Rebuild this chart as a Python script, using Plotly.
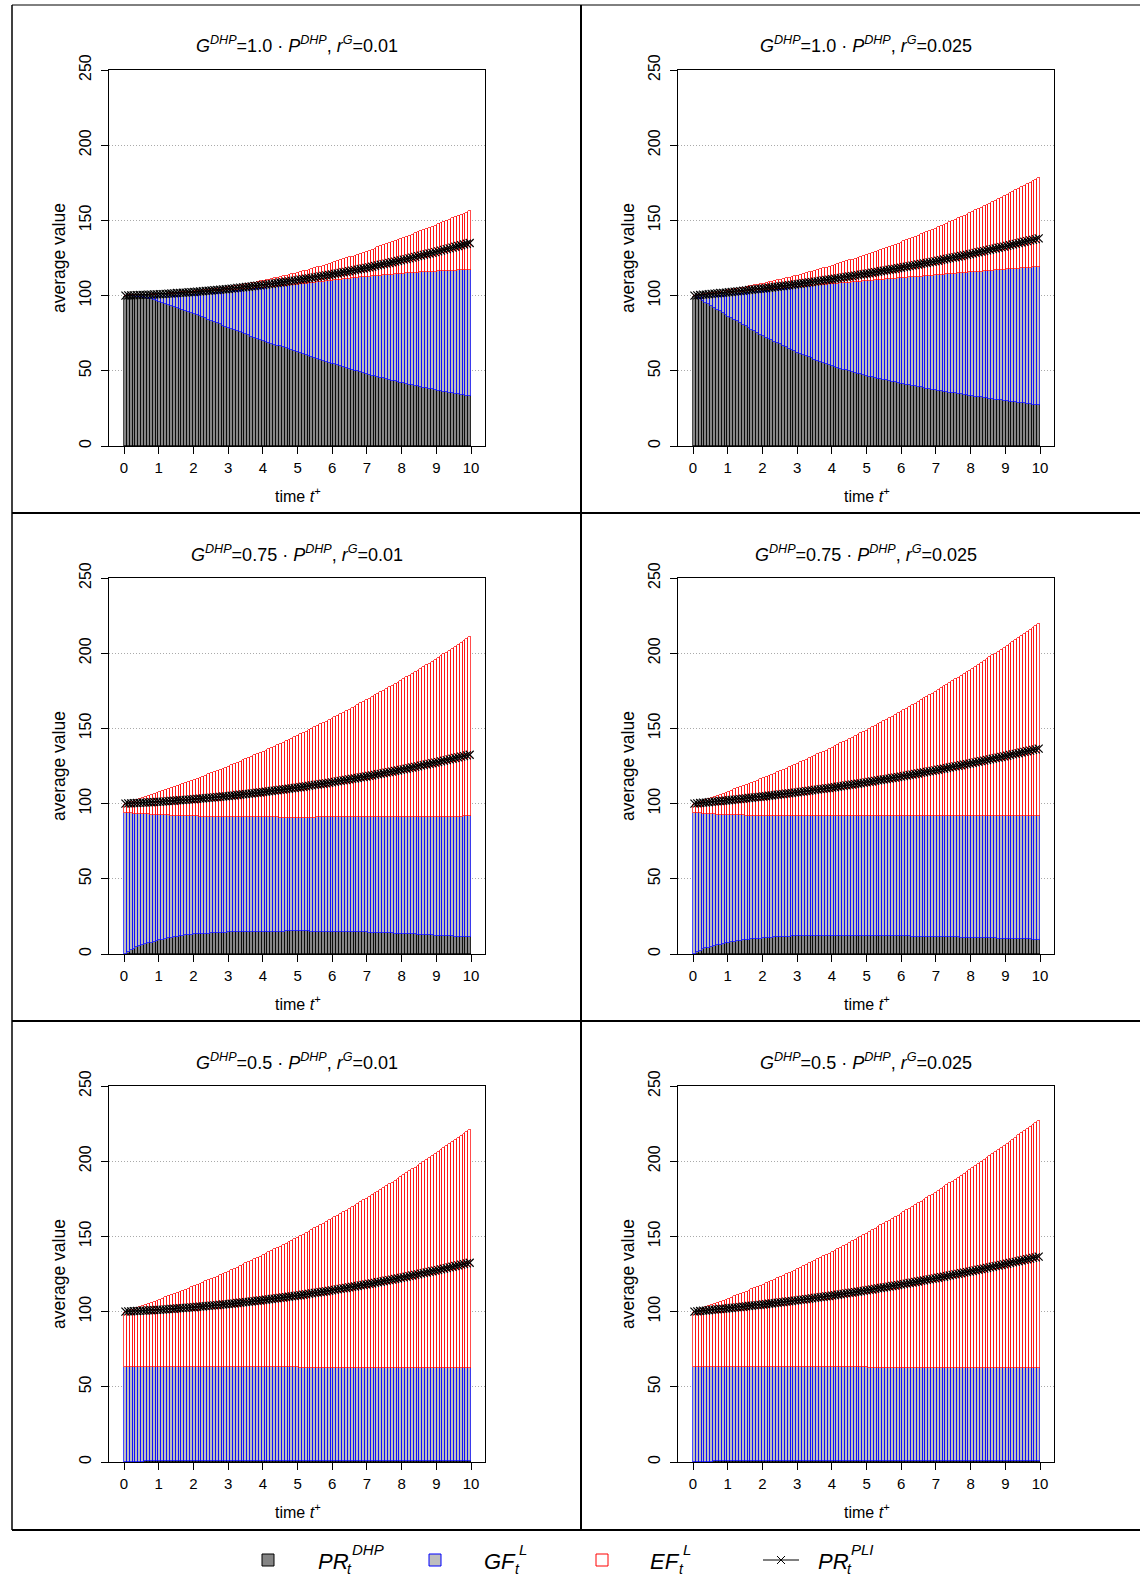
import plotly.graph_objects as go
from plotly.subplots import make_subplots

# ---------------- data (monthly values, t = 0, 1/12, ..., 10) ----------------
tick_years = [0, 1, 2, 3, 4, 5, 6, 7, 8, 9, 10]
y_ticks = [0, 50, 100, 150, 200, 250]

panel_titles = [
    "<i>G</i><sup><i>DHP</i></sup>=1.0 · <i>P</i><sup><i>DHP</i></sup>, <i>r</i><sup><i>G</i></sup>=0.01",
    "<i>G</i><sup><i>DHP</i></sup>=1.0 · <i>P</i><sup><i>DHP</i></sup>, <i>r</i><sup><i>G</i></sup>=0.025",
    "<i>G</i><sup><i>DHP</i></sup>=0.75 · <i>P</i><sup><i>DHP</i></sup>, <i>r</i><sup><i>G</i></sup>=0.01",
    "<i>G</i><sup><i>DHP</i></sup>=0.75 · <i>P</i><sup><i>DHP</i></sup>, <i>r</i><sup><i>G</i></sup>=0.025",
    "<i>G</i><sup><i>DHP</i></sup>=0.5 · <i>P</i><sup><i>DHP</i></sup>, <i>r</i><sup><i>G</i></sup>=0.01",
    "<i>G</i><sup><i>DHP</i></sup>=0.5 · <i>P</i><sup><i>DHP</i></sup>, <i>r</i><sup><i>G</i></sup>=0.025",
]

# Panel 1: G=1.0, r=0.01
p1_dhp = [100, 99.9, 99.8, 99.6, 99.4, 99.1, 98.8, 98.4, 98.0, 97.6, 97.1, 96.6, 96.0,
          95.3, 94.7, 94.0, 93.3, 92.7, 92.0, 91.3, 90.7, 90.0, 89.3, 88.7, 88.0,
          87.2, 86.4, 85.6, 84.8, 84.0, 83.3, 82.5, 81.7, 80.9, 80.1, 79.3, 78.5,
          77.8, 77.1, 76.4, 75.7, 75.0, 74.3, 73.5, 72.8, 72.1, 71.4, 70.7, 70.0,
          69.4, 68.7, 68.1, 67.4, 66.8, 66.2, 65.5, 64.9, 64.2, 63.6, 62.9, 62.3,
          61.7, 61.1, 60.4, 59.8, 59.2, 58.6, 57.9, 57.3, 56.7, 56.1, 55.4, 54.8,
          54.2, 53.6, 53.1, 52.5, 51.9, 51.3, 50.7, 50.1, 49.6, 49.0, 48.4, 47.8,
          47.3, 46.8, 46.4, 45.9, 45.4, 44.9, 44.4, 43.9, 43.5, 43.0, 42.5, 42.0,
          41.6, 41.2, 40.8, 40.4, 40.0, 39.6, 39.2, 38.8, 38.4, 38.0, 37.6, 37.2,
          36.9, 36.5, 36.2, 35.8, 35.5, 35.1, 34.8, 34.4, 34.1, 33.7, 33.4, 33.0]
p1_dhp_gf = [100, 100.1, 100.1, 100.2, 100.3, 100.3, 100.4, 100.5, 100.5, 100.6, 100.7, 100.7, 100.8,
             100.9, 101.0, 101.1, 101.2, 101.3, 101.4, 101.5, 101.6, 101.7, 101.8, 101.9, 102.0,
             102.1, 102.3, 102.4, 102.5, 102.6, 102.8, 102.9, 103.0, 103.1, 103.3, 103.4, 103.5,
             103.6, 103.8, 103.9, 104.1, 104.2, 104.4, 104.5, 104.6, 104.8, 104.9, 105.1, 105.2,
             105.4, 105.6, 105.7, 105.9, 106.1, 106.3, 106.4, 106.6, 106.8, 107.0, 107.1, 107.3,
             107.5, 107.8, 108.0, 108.2, 108.4, 108.7, 108.9, 109.1, 109.3, 109.6, 109.8, 110.0,
             110.2, 110.4, 110.6, 110.8, 111.0, 111.3, 111.5, 111.7, 111.9, 112.1, 112.3, 112.5,
             112.7, 112.8, 113.0, 113.2, 113.3, 113.5, 113.7, 113.8, 114.0, 114.2, 114.3, 114.5,
             114.6, 114.8, 114.9, 115.0, 115.1, 115.3, 115.4, 115.5, 115.6, 115.8, 115.9, 116.0,
             116.1, 116.2, 116.3, 116.3, 116.4, 116.5, 116.6, 116.7, 116.8, 116.8, 116.9, 117.0]
p1_total = [100, 100.1, 100.2, 100.3, 100.3, 100.4, 100.5, 100.6, 100.7, 100.8, 100.8, 100.9, 101.0,
            101.2, 101.3, 101.5, 101.6, 101.8, 101.9, 102.1, 102.2, 102.4, 102.5, 102.7, 102.8,
            103.0, 103.3, 103.5, 103.7, 103.9, 104.2, 104.4, 104.6, 104.8, 105.1, 105.3, 105.5,
            105.9, 106.2, 106.6, 106.9, 107.3, 107.7, 108.0, 108.4, 108.7, 109.1, 109.4, 109.8,
            110.2, 110.7, 111.1, 111.5, 112.0, 112.4, 112.8, 113.3, 113.7, 114.1, 114.6, 115.0,
            115.5, 116.1, 116.6, 117.2, 117.7, 118.3, 118.8, 119.3, 119.9, 120.4, 121.0, 121.5,
            122.1, 122.8, 123.4, 124.1, 124.7, 125.4, 126.0, 126.6, 127.3, 127.9, 128.6, 129.2,
            129.9, 130.6, 131.3, 132.0, 132.7, 133.4, 134.0, 134.7, 135.4, 136.1, 136.8, 137.5,
            138.3, 139.0, 139.8, 140.5, 141.3, 142.0, 142.8, 143.5, 144.3, 145.0, 145.8, 146.5,
            147.3, 148.1, 148.9, 149.7, 150.5, 151.3, 152.0, 152.8, 153.6, 154.4, 155.2, 156.0]
p1_pli = [100, 100.1, 100.2, 100.2, 100.3, 100.4, 100.5, 100.5, 100.6, 100.7, 100.8, 100.8, 100.9,
          101.0, 101.2, 101.3, 101.4, 101.5, 101.7, 101.8, 101.9, 102.0, 102.2, 102.3, 102.4,
          102.6, 102.7, 102.9, 103.1, 103.2, 103.4, 103.6, 103.7, 103.9, 104.1, 104.2, 104.4,
          104.6, 104.8, 105.1, 105.3, 105.5, 105.7, 105.9, 106.1, 106.4, 106.6, 106.8, 107.0,
          107.3, 107.6, 107.8, 108.1, 108.4, 108.7, 108.9, 109.2, 109.5, 109.8, 110.0, 110.3,
          110.6, 110.9, 111.2, 111.5, 111.8, 112.1, 112.5, 112.8, 113.1, 113.4, 113.7, 114.0,
          114.4, 114.7, 115.1, 115.5, 115.8, 116.2, 116.6, 116.9, 117.3, 117.7, 118.0, 118.4,
          118.8, 119.2, 119.7, 120.1, 120.5, 120.9, 121.3, 121.7, 122.2, 122.6, 123.0, 123.4,
          123.9, 124.3, 124.8, 125.2, 125.7, 126.2, 126.6, 127.1, 127.5, 128.0, 128.4, 128.9,
          129.4, 129.9, 130.4, 130.9, 131.4, 131.9, 132.5, 133.0, 133.5, 134.0, 134.5, 135.0]

# Panel 2: G=1.0, r=0.025
p2_dhp = [100, 98.8, 97.7, 96.5, 95.3, 94.2, 93.0, 91.8, 90.7, 89.5, 88.3, 87.2, 86.0,
          84.9, 83.8, 82.8, 81.7, 80.6, 79.5, 78.4, 77.3, 76.3, 75.2, 74.1, 73.0,
          72.1, 71.2, 70.3, 69.3, 68.4, 67.5, 66.6, 65.7, 64.8, 63.8, 62.9, 62.0,
          61.3, 60.5, 59.8, 59.0, 58.3, 57.5, 56.8, 56.0, 55.3, 54.5, 53.8, 53.0,
          52.5, 51.9, 51.4, 50.8, 50.3, 49.8, 49.2, 48.7, 48.1, 47.6, 47.0, 46.5,
          46.1, 45.7, 45.3, 44.8, 44.4, 44.0, 43.6, 43.2, 42.8, 42.3, 41.9, 41.5,
          41.1, 40.8, 40.4, 40.0, 39.6, 39.3, 38.9, 38.5, 38.1, 37.8, 37.4, 37.0,
          36.7, 36.4, 36.1, 35.8, 35.5, 35.3, 35.0, 34.7, 34.4, 34.1, 33.8, 33.5,
          33.2, 32.9, 32.6, 32.3, 32.0, 31.8, 31.5, 31.2, 30.9, 30.6, 30.3, 30.0,
          29.8, 29.5, 29.3, 29.0, 28.8, 28.5, 28.3, 28.0, 27.8, 27.5, 27.3, 27.0]
p2_dhp_gf = [100, 100.2, 100.3, 100.5, 100.6, 100.8, 100.9, 101.1, 101.2, 101.4, 101.5, 101.7, 101.8,
             102.0, 102.1, 102.3, 102.4, 102.6, 102.8, 102.9, 103.1, 103.2, 103.4, 103.5, 103.7,
             103.9, 104.0, 104.2, 104.3, 104.5, 104.7, 104.8, 105.0, 105.1, 105.3, 105.4, 105.6,
             105.8, 105.9, 106.1, 106.3, 106.4, 106.6, 106.8, 106.9, 107.1, 107.3, 107.4, 107.6,
             107.8, 107.9, 108.1, 108.3, 108.4, 108.6, 108.8, 108.9, 109.1, 109.3, 109.4, 109.6,
             109.8, 109.9, 110.1, 110.3, 110.4, 110.6, 110.8, 110.9, 111.1, 111.3, 111.4, 111.6,
             111.8, 111.9, 112.1, 112.2, 112.4, 112.6, 112.7, 112.9, 113.0, 113.2, 113.3, 113.5,
             113.7, 113.8, 114.0, 114.1, 114.3, 114.5, 114.6, 114.8, 114.9, 115.1, 115.2, 115.4,
             115.6, 115.7, 115.9, 116.0, 116.2, 116.3, 116.5, 116.6, 116.8, 116.9, 117.1, 117.2,
             117.4, 117.5, 117.7, 117.8, 118.0, 118.1, 118.3, 118.4, 118.6, 118.7, 118.9, 119.0]
p2_total = [100, 100.3, 100.6, 100.9, 101.2, 101.5, 101.8, 102.0, 102.3, 102.6, 102.9, 103.2, 103.5,
            103.9, 104.2, 104.6, 105.0, 105.3, 105.7, 106.1, 106.4, 106.8, 107.2, 107.5, 107.9,
            108.4, 108.8, 109.3, 109.7, 110.2, 110.6, 111.1, 111.5, 112.0, 112.4, 112.9, 113.3,
            113.8, 114.4, 114.9, 115.4, 116.0, 116.5, 117.0, 117.6, 118.1, 118.6, 119.2, 119.7,
            120.3, 120.9, 121.5, 122.1, 122.7, 123.4, 124.0, 124.6, 125.2, 125.8, 126.4, 127.0,
            127.7, 128.4, 129.1, 129.8, 130.5, 131.2, 131.8, 132.5, 133.2, 133.9, 134.6, 135.3,
            136.1, 136.8, 137.6, 138.4, 139.1, 139.9, 140.7, 141.4, 142.2, 143.0, 143.7, 144.5,
            145.4, 146.2, 147.1, 147.9, 148.8, 149.6, 150.5, 151.3, 152.2, 153.0, 153.9, 154.7,
            155.6, 156.6, 157.5, 158.4, 159.4, 160.3, 161.2, 162.2, 163.1, 164.0, 165.0, 165.9,
            166.9, 167.9, 168.9, 169.9, 170.9, 171.9, 173.0, 174.0, 175.0, 176.0, 177.0, 178.0]
p2_pli = [100, 100.2, 100.4, 100.6, 100.7, 100.9, 101.1, 101.3, 101.5, 101.7, 101.8, 102.0, 102.2,
          102.4, 102.6, 102.8, 103.0, 103.2, 103.5, 103.7, 103.9, 104.1, 104.3, 104.5, 104.7,
          104.9, 105.2, 105.4, 105.7, 105.9, 106.2, 106.4, 106.6, 106.9, 107.1, 107.4, 107.6,
          107.9, 108.2, 108.4, 108.7, 109.0, 109.3, 109.5, 109.8, 110.1, 110.4, 110.6, 110.9,
          111.2, 111.5, 111.8, 112.1, 112.4, 112.7, 113.0, 113.3, 113.6, 113.9, 114.2, 114.5,
          114.8, 115.2, 115.5, 115.8, 116.2, 116.5, 116.8, 117.2, 117.5, 117.8, 118.2, 118.5,
          118.9, 119.2, 119.6, 119.9, 120.3, 120.7, 121.0, 121.4, 121.7, 122.1, 122.4, 122.8,
          123.2, 123.6, 124.0, 124.4, 124.8, 125.2, 125.5, 125.9, 126.3, 126.7, 127.1, 127.5,
          127.9, 128.4, 128.8, 129.2, 129.6, 130.1, 130.5, 130.9, 131.3, 131.8, 132.2, 132.6,
          133.1, 133.5, 134.0, 134.4, 134.9, 135.3, 135.8, 136.2, 136.7, 137.1, 137.6, 138.0]

# Panel 3: G=0.75, r=0.01
p3_dhp = [0, 1.5, 2.7, 3.6, 4.4, 5.1, 5.8, 6.4, 7.0, 7.6, 8.2, 8.7, 9.2,
          9.6, 10.0, 10.4, 10.8, 11.1, 11.5, 11.8, 12.1, 12.4, 12.6, 12.9, 13.1,
          13.2, 13.3, 13.4, 13.5, 13.6, 13.7, 13.8, 13.9, 14.0, 14.1, 14.2, 14.3,
          14.3, 14.4, 14.4, 14.5, 14.5, 14.6, 14.6, 14.7, 14.7, 14.7, 14.8, 14.8,
          14.8, 14.8, 14.9, 14.9, 14.9, 14.9, 14.9, 15.0, 15.0, 15.0, 15.0, 15.0,
          15.0, 15.0, 15.0, 15.0, 14.9, 14.9, 14.9, 14.9, 14.9, 14.8, 14.8, 14.8,
          14.8, 14.7, 14.7, 14.6, 14.6, 14.6, 14.5, 14.5, 14.4, 14.4, 14.3, 14.3,
          14.2, 14.2, 14.1, 14.0, 14.0, 13.9, 13.8, 13.8, 13.7, 13.6, 13.6, 13.5,
          13.4, 13.3, 13.2, 13.1, 13.0, 12.9, 12.8, 12.7, 12.6, 12.5, 12.4, 12.3,
          12.2, 12.1, 12.0, 11.9, 11.8, 11.7, 11.5, 11.4, 11.3, 11.2, 11.1, 11.0]
p3_dhp_gf = [94.0, 93.8, 93.6, 93.4, 93.3, 93.1, 93.0, 92.9, 92.8, 92.6, 92.5, 92.4, 92.3,
             92.2, 92.2, 92.1, 92.0, 92.0, 91.9, 91.8, 91.8, 91.7, 91.6, 91.6, 91.5,
             91.5, 91.4, 91.4, 91.3, 91.3, 91.3, 91.2, 91.2, 91.1, 91.1, 91.0, 91.0,
             91.0, 91.0, 90.9, 90.9, 90.9, 90.9, 90.9, 90.9, 90.8, 90.8, 90.8, 90.8,
             90.8, 90.8, 90.8, 90.8, 90.8, 90.7, 90.7, 90.7, 90.7, 90.7, 90.7, 90.7,
             90.7, 90.7, 90.7, 90.7, 90.7, 90.7, 90.8, 90.8, 90.8, 90.8, 90.8, 90.8,
             90.8, 90.8, 90.8, 90.8, 90.8, 90.8, 90.9, 90.9, 90.9, 90.9, 90.9, 90.9,
             90.9, 90.9, 90.9, 90.9, 90.9, 90.9, 91.0, 91.0, 91.0, 91.0, 91.0, 91.0,
             91.0, 91.0, 91.0, 91.1, 91.1, 91.1, 91.1, 91.1, 91.1, 91.2, 91.2, 91.2,
             91.2, 91.3, 91.3, 91.3, 91.3, 91.4, 91.4, 91.4, 91.4, 91.5, 91.5, 91.5]
p3_total = [100, 100.6, 101.2, 101.9, 102.5, 103.1, 103.7, 104.3, 104.9, 105.6, 106.2, 106.8, 107.4,
            108.1, 108.8, 109.5, 110.1, 110.8, 111.5, 112.2, 112.9, 113.5, 114.2, 114.9, 115.6,
            116.4, 117.1, 117.9, 118.6, 119.4, 120.1, 120.9, 121.6, 122.4, 123.1, 123.9, 124.6,
            125.4, 126.2, 127.1, 127.9, 128.7, 129.5, 130.3, 131.1, 132.0, 132.8, 133.6, 134.4,
            135.3, 136.2, 137.1, 137.9, 138.8, 139.7, 140.6, 141.5, 142.4, 143.2, 144.1, 145.0,
            146.0, 146.9, 147.9, 148.8, 149.8, 150.7, 151.7, 152.6, 153.6, 154.5, 155.5, 156.4,
            157.4, 158.4, 159.5, 160.5, 161.5, 162.5, 163.5, 164.5, 165.6, 166.6, 167.6, 168.6,
            169.7, 170.8, 171.9, 172.9, 174.0, 175.1, 176.2, 177.3, 178.4, 179.4, 180.5, 181.6,
            182.8, 183.9, 185.1, 186.2, 187.4, 188.5, 189.7, 190.8, 192.0, 193.1, 194.3, 195.4,
            196.7, 197.9, 199.2, 200.4, 201.7, 202.9, 204.2, 205.5, 206.7, 208.0, 209.2, 210.5]
p3_pli = [100, 100.1, 100.2, 100.3, 100.4, 100.5, 100.6, 100.7, 100.8, 100.9, 101.0, 101.1, 101.2,
          101.3, 101.5, 101.6, 101.8, 101.9, 102.1, 102.2, 102.3, 102.5, 102.6, 102.8, 102.9,
          103.1, 103.3, 103.4, 103.6, 103.8, 104.0, 104.1, 104.3, 104.5, 104.7, 104.8, 105.0,
          105.2, 105.4, 105.7, 105.9, 106.1, 106.3, 106.5, 106.7, 107.0, 107.2, 107.4, 107.6,
          107.9, 108.1, 108.4, 108.6, 108.9, 109.1, 109.4, 109.6, 109.9, 110.1, 110.4, 110.6,
          110.9, 111.2, 111.5, 111.8, 112.1, 112.4, 112.6, 112.9, 113.2, 113.5, 113.8, 114.1,
          114.4, 114.8, 115.1, 115.4, 115.7, 116.1, 116.4, 116.7, 117.0, 117.4, 117.7, 118.0,
          118.4, 118.7, 119.1, 119.5, 119.8, 120.2, 120.6, 120.9, 121.3, 121.7, 122.0, 122.4,
          122.8, 123.2, 123.6, 124.0, 124.4, 124.8, 125.2, 125.6, 126.0, 126.4, 126.8, 127.2,
          127.6, 128.1, 128.5, 128.9, 129.4, 129.8, 130.3, 130.7, 131.2, 131.6, 132.1, 132.5]

# Panel 4: G=0.75, r=0.025
p4_dhp = [0, 1.2, 2.2, 3.0, 3.7, 4.3, 4.9, 5.4, 5.9, 6.3, 6.7, 7.1, 7.5,
          7.8, 8.1, 8.4, 8.7, 9.0, 9.3, 9.5, 9.7, 9.9, 10.1, 10.3, 10.5,
          10.6, 10.8, 10.9, 11.0, 11.2, 11.3, 11.4, 11.5, 11.6, 11.7, 11.9, 12.0,
          12.0, 12.0, 12.1, 12.1, 12.1, 12.2, 12.2, 12.2, 12.2, 12.3, 12.3, 12.3,
          12.3, 12.3, 12.3, 12.3, 12.3, 12.3, 12.2, 12.2, 12.2, 12.2, 12.2, 12.2,
          12.2, 12.1, 12.1, 12.1, 12.0, 12.0, 12.0, 11.9, 11.9, 11.9, 11.8, 11.8,
          11.8, 11.7, 11.7, 11.6, 11.6, 11.6, 11.5, 11.5, 11.4, 11.4, 11.3, 11.3,
          11.3, 11.2, 11.2, 11.1, 11.1, 11.1, 11.0, 11.0, 10.9, 10.9, 10.8, 10.8,
          10.8, 10.7, 10.7, 10.6, 10.6, 10.5, 10.5, 10.4, 10.4, 10.3, 10.3, 10.2,
          10.1, 10.1, 10.0, 10.0, 9.9, 9.9, 9.8, 9.7, 9.7, 9.6, 9.6, 9.5]
p4_dhp_gf = [94.0, 93.8, 93.6, 93.4, 93.2, 93.1, 92.9, 92.8, 92.7, 92.6, 92.5, 92.4, 92.3,
             92.3, 92.2, 92.2, 92.1, 92.1, 92.0, 92.0, 91.9, 91.9, 91.9, 91.8, 91.8,
             91.8, 91.8, 91.7, 91.7, 91.7, 91.7, 91.7, 91.6, 91.6, 91.6, 91.6, 91.6,
             91.6, 91.6, 91.6, 91.6, 91.6, 91.6, 91.5, 91.5, 91.5, 91.5, 91.5, 91.5,
             91.5, 91.5, 91.5, 91.5, 91.5, 91.5, 91.5, 91.5, 91.5, 91.5, 91.5, 91.5,
             91.5, 91.5, 91.5, 91.5, 91.5, 91.5, 91.5, 91.5, 91.5, 91.5, 91.5, 91.5,
             91.5, 91.5, 91.5, 91.5, 91.5, 91.5, 91.6, 91.6, 91.6, 91.6, 91.6, 91.6,
             91.6, 91.6, 91.6, 91.6, 91.6, 91.6, 91.7, 91.7, 91.7, 91.7, 91.7, 91.7,
             91.7, 91.7, 91.7, 91.7, 91.7, 91.7, 91.8, 91.8, 91.8, 91.8, 91.8, 91.8,
             91.8, 91.8, 91.8, 91.9, 91.9, 91.9, 91.9, 91.9, 91.9, 92.0, 92.0, 92.0]
p4_total = [100, 100.7, 101.3, 102.0, 102.6, 103.3, 103.9, 104.6, 105.3, 105.9, 106.6, 107.2, 107.9,
            108.6, 109.4, 110.1, 110.9, 111.6, 112.4, 113.1, 113.8, 114.6, 115.3, 116.1, 116.8,
            117.6, 118.4, 119.2, 120.0, 120.8, 121.7, 122.5, 123.3, 124.1, 124.9, 125.7, 126.5,
            127.4, 128.3, 129.2, 130.0, 130.9, 131.8, 132.7, 133.6, 134.5, 135.3, 136.2, 137.1,
            138.1, 139.0, 140.0, 140.9, 141.9, 142.9, 143.8, 144.8, 145.7, 146.7, 147.6, 148.6,
            149.6, 150.7, 151.7, 152.7, 153.8, 154.8, 155.8, 156.9, 157.9, 158.9, 160.0, 161.0,
            162.1, 163.2, 164.3, 165.4, 166.5, 167.7, 168.8, 169.9, 171.0, 172.1, 173.2, 174.3,
            175.5, 176.7, 177.9, 179.0, 180.2, 181.4, 182.6, 183.8, 185.0, 186.1, 187.3, 188.5,
            189.8, 191.0, 192.3, 193.5, 194.8, 196.0, 197.3, 198.5, 199.8, 201.0, 202.3, 203.5,
            204.8, 206.2, 207.5, 208.8, 210.2, 211.5, 212.8, 214.2, 215.5, 216.8, 218.2, 219.5]
p4_pli = [100, 100.2, 100.4, 100.6, 100.7, 100.9, 101.1, 101.3, 101.5, 101.7, 101.8, 102.0, 102.2,
          102.4, 102.6, 102.8, 103.0, 103.2, 103.5, 103.7, 103.9, 104.1, 104.3, 104.5, 104.7,
          104.9, 105.2, 105.4, 105.6, 105.9, 106.1, 106.3, 106.6, 106.8, 107.0, 107.3, 107.5,
          107.8, 108.0, 108.3, 108.5, 108.8, 109.1, 109.3, 109.6, 109.8, 110.1, 110.3, 110.6,
          110.9, 111.2, 111.5, 111.8, 112.1, 112.4, 112.6, 112.9, 113.2, 113.5, 113.8, 114.1,
          114.4, 114.7, 115.1, 115.4, 115.7, 116.0, 116.3, 116.6, 117.0, 117.3, 117.6, 117.9,
          118.3, 118.6, 119.0, 119.3, 119.7, 120.0, 120.4, 120.7, 121.1, 121.4, 121.8, 122.1,
          122.5, 122.9, 123.2, 123.6, 124.0, 124.4, 124.7, 125.1, 125.5, 125.9, 126.2, 126.6,
          127.0, 127.4, 127.8, 128.2, 128.6, 129.0, 129.4, 129.8, 130.2, 130.6, 131.0, 131.4,
          131.8, 132.3, 132.7, 133.1, 133.5, 134.0, 134.4, 134.8, 135.2, 135.7, 136.1, 136.5]

# Panel 5: G=0.5, r=0.01
p5_dhp = [0, 0.1, 0.1, 0.2, 0.2, 0.3, 0.3, 0.4, 0.4, 0.4, 0.5, 0.5, 0.5,
          0.6, 0.6, 0.6, 0.7, 0.7, 0.7, 0.7, 0.8, 0.8, 0.8, 0.8, 0.8,
          0.8, 0.8, 0.8, 0.8, 0.8, 0.8, 0.8, 0.8, 0.8, 0.8, 0.8, 0.8,
          0.8, 0.8, 0.8, 0.8, 0.8, 0.8, 0.8, 0.8, 0.8, 0.8, 0.8, 0.8,
          0.8, 0.8, 0.8, 0.8, 0.8, 0.8, 0.8, 0.8, 0.8, 0.8, 0.8, 0.8,
          0.8, 0.8, 0.8, 0.8, 0.8, 0.8, 0.8, 0.8, 0.8, 0.8, 0.8, 0.8,
          0.8, 0.8, 0.8, 0.8, 0.8, 0.8, 0.8, 0.8, 0.8, 0.8, 0.8, 0.8,
          0.8, 0.8, 0.8, 0.8, 0.8, 0.8, 0.8, 0.8, 0.8, 0.8, 0.8, 0.8,
          0.8, 0.8, 0.8, 0.8, 0.8, 0.8, 0.8, 0.8, 0.8, 0.8, 0.8, 0.8,
          0.8, 0.8, 0.8, 0.8, 0.8, 0.8, 0.8, 0.8, 0.8, 0.8, 0.8, 0.8]
p5_dhp_gf = [63.0, 63.0, 63.0, 63.0, 63.0, 63.0, 63.0, 63.0, 63.0, 63.0, 63.0, 63.0, 63.0,
             63.0, 63.0, 63.0, 63.0, 63.0, 63.0, 63.0, 63.0, 63.0, 63.0, 63.0, 63.0,
             62.9, 62.9, 62.9, 62.9, 62.9, 62.9, 62.9, 62.9, 62.9, 62.9, 62.9, 62.9,
             62.9, 62.9, 62.9, 62.9, 62.9, 62.9, 62.9, 62.9, 62.9, 62.9, 62.9, 62.9,
             62.9, 62.9, 62.9, 62.9, 62.9, 62.9, 62.9, 62.9, 62.9, 62.9, 62.9, 62.9,
             62.8, 62.8, 62.8, 62.8, 62.8, 62.8, 62.8, 62.8, 62.8, 62.8, 62.8, 62.8,
             62.8, 62.8, 62.8, 62.8, 62.8, 62.8, 62.8, 62.8, 62.8, 62.8, 62.8, 62.8,
             62.8, 62.8, 62.8, 62.8, 62.8, 62.8, 62.8, 62.8, 62.8, 62.8, 62.8, 62.8,
             62.8, 62.8, 62.8, 62.8, 62.8, 62.8, 62.8, 62.8, 62.8, 62.8, 62.8, 62.8,
             62.8, 62.8, 62.8, 62.8, 62.8, 62.8, 62.8, 62.8, 62.8, 62.8, 62.8, 62.8]
p5_total = [100, 100.7, 101.3, 102.0, 102.7, 103.3, 104.0, 104.7, 105.3, 106.0, 106.7, 107.3, 108.0,
            108.7, 109.5, 110.2, 110.9, 111.7, 112.4, 113.1, 113.9, 114.6, 115.3, 116.1, 116.8,
            117.6, 118.4, 119.3, 120.1, 120.9, 121.7, 122.5, 123.3, 124.2, 125.0, 125.8, 126.6,
            127.5, 128.4, 129.3, 130.2, 131.1, 132.0, 132.9, 133.8, 134.7, 135.6, 136.5, 137.4,
            138.4, 139.3, 140.3, 141.3, 142.2, 143.2, 144.2, 145.1, 146.1, 147.1, 148.0, 149.0,
            150.1, 151.1, 152.2, 153.2, 154.3, 155.3, 156.4, 157.4, 158.5, 159.5, 160.6, 161.6,
            162.7, 163.8, 165.0, 166.1, 167.2, 168.3, 169.4, 170.5, 171.7, 172.8, 173.9, 175.0,
            176.2, 177.4, 178.6, 179.8, 181.0, 182.2, 183.4, 184.6, 185.8, 187.0, 188.2, 189.4,
            190.7, 192.0, 193.2, 194.5, 195.8, 197.1, 198.4, 199.7, 200.9, 202.2, 203.5, 204.8,
            206.2, 207.5, 208.9, 210.2, 211.6, 212.9, 214.3, 215.6, 217.0, 218.3, 219.7, 221.0]
p5_pli = list(p3_pli)  # the PLI line reads identically in both r=0.01 panels below G=1.0

# Panel 6: G=0.5, r=0.025
p6_dhp = list(p5_dhp)
p6_dhp_gf = list(p5_dhp_gf)
p6_total = [100, 100.7, 101.4, 102.1, 102.8, 103.5, 104.2, 105.0, 105.7, 106.4, 107.1, 107.8, 108.5,
            109.3, 110.1, 110.8, 111.6, 112.4, 113.2, 114.0, 114.8, 115.5, 116.3, 117.1, 117.9,
            118.8, 119.6, 120.5, 121.3, 122.2, 123.0, 123.9, 124.8, 125.6, 126.5, 127.3, 128.2,
            129.1, 130.1, 131.0, 132.0, 132.9, 133.9, 134.8, 135.7, 136.7, 137.6, 138.6, 139.5,
            140.5, 141.6, 142.6, 143.6, 144.6, 145.7, 146.7, 147.7, 148.7, 149.8, 150.8, 151.8,
            152.9, 154.0, 155.1, 156.2, 157.3, 158.4, 159.4, 160.5, 161.6, 162.7, 163.8, 164.9,
            166.1, 167.3, 168.4, 169.6, 170.8, 171.9, 173.1, 174.3, 175.5, 176.7, 177.8, 179.0,
            180.3, 181.5, 182.8, 184.0, 185.3, 186.5, 187.8, 189.1, 190.3, 191.6, 192.8, 194.1,
            195.4, 196.8, 198.1, 199.4, 200.8, 202.1, 203.4, 204.8, 206.1, 207.4, 208.8, 210.1,
            211.5, 212.9, 214.3, 215.7, 217.1, 218.5, 220.0, 221.4, 222.8, 224.2, 225.6, 227.0]
p6_pli = list(p4_pli)

# ---------------- figure ----------------
W, H = 1140, 1578
FONT = "Liberation Sans, Arial, Helvetica, sans-serif"
N = len(p1_dhp)
bar_pos = [(i + 0.5) * 10 / N for i in range(N)]
bar_w = 10 / N
BAR_LW = 0.7

panels = [
    (p1_dhp, p1_dhp_gf, p1_total, p1_pli),
    (p2_dhp, p2_dhp_gf, p2_total, p2_pli),
    (p3_dhp, p3_dhp_gf, p3_total, p3_pli),
    (p4_dhp, p4_dhp_gf, p4_total, p4_pli),
    (p5_dhp, p5_dhp_gf, p5_total, p5_pli),
    (p6_dhp, p6_dhp_gf, p6_total, p6_pli),
]


def px(x):
    return x / W


def py(y):
    return 1 - y / H


col_px = [(109, 485), (678, 1054)]
row_px = [(70, 446), (578, 954), (1086, 1462)]

fig = make_subplots(rows=3, cols=2)

for k, (dhp, dhp_gf, total, pli) in enumerate(panels):
    r, c = k // 2 + 1, k % 2 + 1
    gf = [round(a - b, 2) for a, b in zip(dhp_gf, dhp)]
    ef = [round(a - b, 2) for a, b in zip(total, dhp_gf)]
    fig.add_trace(go.Bar(x=bar_pos, y=dhp, width=bar_w,
                         marker=dict(color="#858585", line=dict(color="black", width=BAR_LW)),
                         showlegend=False), row=r, col=c)
    fig.add_trace(go.Bar(x=bar_pos, y=gf, width=bar_w,
                         marker=dict(color="#bebebe", line=dict(color="#0000ff", width=BAR_LW)),
                         showlegend=False), row=r, col=c)
    fig.add_trace(go.Bar(x=bar_pos, y=ef, width=bar_w,
                         marker=dict(color="white", line=dict(color="#ff0000", width=BAR_LW)),
                         showlegend=False), row=r, col=c)
    fig.add_trace(go.Scatter(x=bar_pos, y=pli, mode="lines+markers",
                             line=dict(color="black", width=1),
                             marker=dict(symbol="x-thin", size=8, color="black",
                                         line=dict(color="black", width=1.2)),
                             showlegend=False), row=r, col=c)
    x0, x1 = col_px[c - 1]
    y0, y1 = row_px[r - 1]
    fig.update_xaxes(domain=[px(x0), px(x1)], row=r, col=c)
    fig.update_yaxes(domain=[py(y1), py(y0)], row=r, col=c)

fig.update_xaxes(range=[-0.432, 10.40], tickmode="array", tickvals=tick_years,
                 ticks="outside", ticklen=7, tickwidth=1, tickcolor="black",
                 showline=True, linecolor="black", linewidth=1, mirror=True,
                 showgrid=False, zeroline=False, automargin=False,
                 tickfont=dict(family=FONT, size=15, color="black"),
                 ticklabelstandoff=1)
fig.update_yaxes(range=[0, 250], tickmode="array", tickvals=y_ticks, tickangle=-90,
                 ticks="outside", ticklen=7, tickwidth=1, tickcolor="black",
                 showline=True, linecolor="black", linewidth=1, mirror=True,
                 showgrid=True, gridcolor="#aaaaaa", griddash="1px,2px", gridwidth=1,
                 zeroline=False, automargin=False,
                 tickfont=dict(family=FONT, size=16, color="black"),
                 ticklabelstandoff=4)

annotations = []
for k, title in enumerate(panel_titles):
    r, c = k // 2, k % 2
    x0, x1 = col_px[c]
    y0, y1 = row_px[r]
    cx = (x0 + x1) / 2
    annotations.append(dict(x=px(cx), y=py(y0 - 25), xref="paper", yref="paper",
                            text=title, showarrow=False, xanchor="center", yanchor="middle",
                            font=dict(family=FONT, size=18, color="black")))
    annotations.append(dict(x=px(cx + 1), y=py(y1 + 49), xref="paper", yref="paper",
                            text="time <i>t</i><sup>+</sup>", showarrow=False,
                            xanchor="center", yanchor="middle",
                            font=dict(family=FONT, size=16, color="black")))
    annotations.append(dict(x=px(x0 - 50), y=py((y0 + y1) / 2), xref="paper", yref="paper",
                            text="average value", showarrow=False, textangle=-90,
                            xanchor="center", yanchor="middle",
                            font=dict(family=FONT, size=17.5, color="black")))

# legend (bottom)
leg_y = 1560
leg_items = [
    dict(sq=268, fill="#858585", edge="black", main="PR", sup="DHP", tx=316, sx=350, bx=345),
    dict(sq=435, fill="#bebebe", edge="#0000ff", main="GF", sup="L", tx=482, sx=517, bx=513),
    dict(sq=602, fill="white", edge="#ff0000", main="EF", sup="L", tx=648, sx=681, bx=677),
    dict(sq=None, fill=None, edge=None, main="PR", sup="PLI", tx=816, sx=849, bx=845),
]
shapes = []
for it in leg_items:
    if it["sq"] is not None:
        s = 6
        shapes.append(dict(type="rect", xref="paper", yref="paper",
                           x0=px(it["sq"] - s), x1=px(it["sq"] + s),
                           y0=py(leg_y + s), y1=py(leg_y - s),
                           fillcolor=it["fill"], line=dict(color=it["edge"], width=1)))
    annotations.append(dict(x=px(it["tx"]), y=py(leg_y + 1), xref="paper", yref="paper",
                            text="<i>%s</i>" % it["main"], showarrow=False,
                            xanchor="left", yanchor="middle",
                            font=dict(family=FONT, size=22, color="black")))
    annotations.append(dict(x=px(it["sx"]), y=py(leg_y - 11), xref="paper", yref="paper",
                            text="<i>%s</i>" % it["sup"], showarrow=False,
                            xanchor="left", yanchor="middle",
                            font=dict(family=FONT, size=15, color="black")))
    annotations.append(dict(x=px(it["bx"]), y=py(leg_y + 9), xref="paper", yref="paper",
                            text="<i>t</i>", showarrow=False,
                            xanchor="left", yanchor="middle",
                            font=dict(family=FONT, size=14, color="black")))

# line+cross legend symbol
shapes.append(dict(type="line", xref="paper", yref="paper", x0=px(763), x1=px(799),
                   y0=py(leg_y), y1=py(leg_y), line=dict(color="black", width=1)))
for dx in (-1, 1):
    shapes.append(dict(type="line", xref="paper", yref="paper",
                       x0=px(781 - 4), x1=px(781 + 4),
                       y0=py(leg_y - 4 * dx), y1=py(leg_y + 4 * dx),
                       line=dict(color="black", width=1)))

# outer frame lines
frame_w = 2
shapes.append(dict(type="line", xref="paper", yref="paper", x0=px(12), x1=px(1140),
                   y0=py(5), y1=py(5), line=dict(color="black", width=1)))
shapes.append(dict(type="line", xref="paper", yref="paper", x0=px(12), x1=px(12),
                   y0=py(5), y1=py(1530), line=dict(color="black", width=1.5)))
shapes.append(dict(type="line", xref="paper", yref="paper", x0=px(581), x1=px(581),
                   y0=py(5), y1=py(1530), line=dict(color="black", width=frame_w)))
for yy in (513, 1021, 1530):
    shapes.append(dict(type="line", xref="paper", yref="paper", x0=px(12), x1=px(1140),
                       y0=py(yy), y1=py(yy), line=dict(color="black", width=frame_w)))

fig.update_layout(template="none", width=W, height=H,
                  margin=dict(l=0, r=0, t=0, b=0, pad=0, autoexpand=False),
                  paper_bgcolor="white", plot_bgcolor="white",
                  barmode="stack", bargap=0, showlegend=False,
                  font=dict(family=FONT, color="black"),
                  annotations=annotations, shapes=shapes)

fig.write_html("out.html")
